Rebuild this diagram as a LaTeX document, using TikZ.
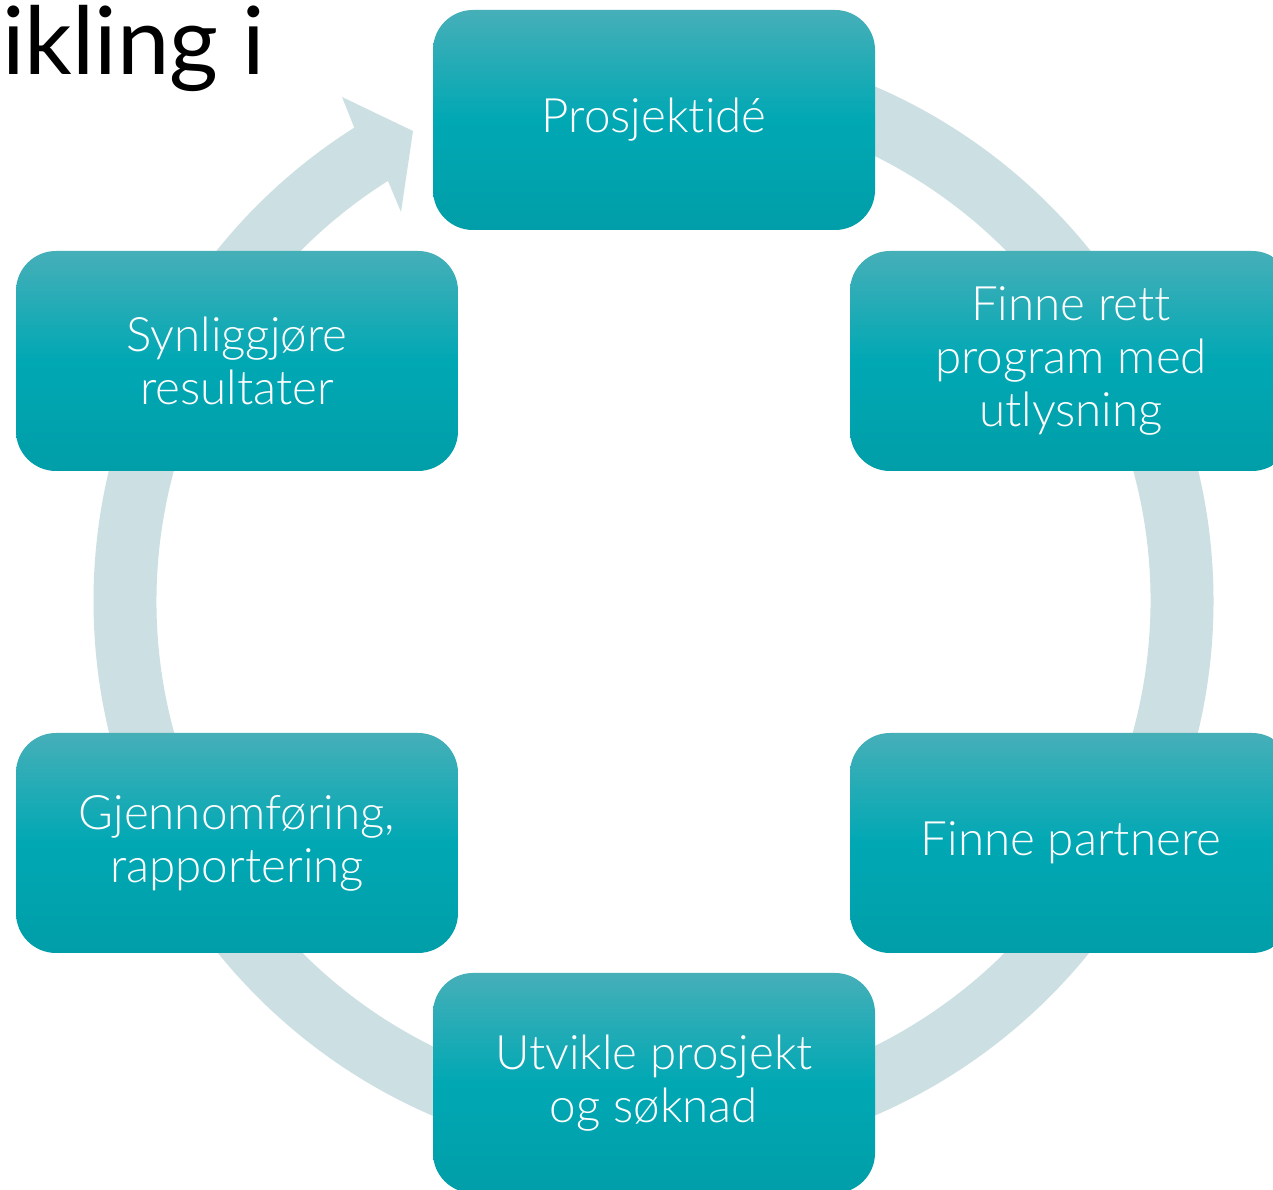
\documentclass[tikz,border=0pt]{standalone}
\usepackage{fontspec}
\setmainfont{Lato}
\newfontfamily\boxfont{Lato Light}[Ligatures=NoCommon]
\definecolor{ringc}{RGB}{204,224,227}
\definecolor{btop}{RGB}{70,175,184}
\definecolor{bmid}{RGB}{0,168,180}
\definecolor{bbot}{RGB}{0,158,168}
\begin{document}
\begin{tikzpicture}[x=1pt,y=1pt,
  stepbox/.style={rounded corners=40pt, minimum width=442pt, minimum height=220pt,
    top color=btop, bottom color=bbot, middle color=bmid, draw=none,
    text=white, align=center, font=\boxfont\fontsize{47.5}{53}\selectfont, inner sep=0pt},
  ringfill/.style={fill=ringc}]
\useasboundingbox (0,0) rectangle (1273,1190);
\clip (0,0) rectangle (1273,1190);
\fill[white] (0,0) rectangle (1273,1190);
\coordinate (C) at (653.5,589);
\coordinate (hOut) at (342,1093);
\coordinate (hTip) at (413,1059);
\coordinate (hIn) at (401,978);
\fill[ringfill] ([shift={(C)}]90:560pt) arc[start angle=90,end angle=-237.7,radius=560pt]
  -- (hOut) -- (hTip) -- (hIn) -- ([shift={(C)}]122.3:497pt)
  arc[start angle=122.3,end angle=450,radius=497pt] -- cycle;
\node[anchor=base west, font=\fontsize{94}{100}\selectfont, inner sep=0pt] (title) at (2,1115) {ikling i};
\node[stepbox] (idea) at (654,1070) {Prosjektidé};
\node[stepbox] (prog) at (1071,829) {Finne rett\\program med\\utlysning};
\node[stepbox] (part) at (1071,347) {Finne partnere};
\node[stepbox] (dev) at (654,107) {Utvikle prosjekt\\og søknad};
\node[stepbox] (impl) at (237,347) {Gjennomføring,\\rapportering};
\node[stepbox] (vis) at (237,829) {Synliggjøre\\resultater};
\end{tikzpicture}
\end{document}
